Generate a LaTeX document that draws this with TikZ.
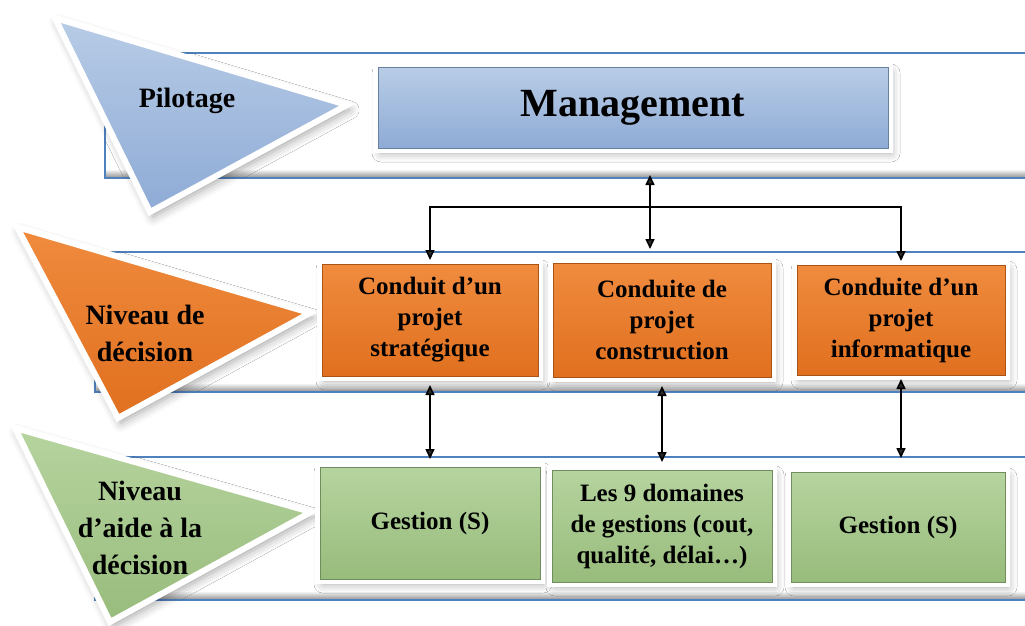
\documentclass[tikz,border=0pt]{standalone}
\usepackage{fontspec}
\setmainfont{Liberation Serif}
\usetikzlibrary{arrows.meta,shadows,shadows.blur,calc}

\definecolor{bandline}{HTML}{4F81BD}
\definecolor{blueTop}{HTML}{B8CCE6}
\definecolor{blueBot}{HTML}{8EABD6}
\definecolor{orangeTop}{HTML}{F08B3E}
\definecolor{orangeBot}{HTML}{E0701F}
\definecolor{greenTop}{HTML}{B6D49F}
\definecolor{greenBot}{HTML}{98BC7C}

\tikzset{
  softshadow/.style={blur shadow={shadow xshift=3pt, shadow yshift=-5pt,
      shadow blur radius=9pt, shadow opacity=35}},
  levelbox/.style={rectangle, align=center, inner sep=2pt, outer sep=4pt,
    font=\fontsize{25}{31}\selectfont\bfseries,
    softshadow,
    preaction={draw=white, line width=10pt},
    line width=1pt},
  bluebox/.style={levelbox, top color=blueTop, bottom color=blueBot, draw=blueBot!75!black},
  orangebox/.style={levelbox, top color=orangeTop, bottom color=orangeBot, draw=orangeBot!75!black},
  greenbox/.style={levelbox, top color=greenTop, bottom color=greenBot, draw=greenBot!75!black},
  pointer/.style={draw=white, line width=6pt, line join=miter, softshadow},
  tritext/.style={align=center, font=\fontsize{28}{37}\selectfont\bfseries},
  link/.style={line width=1.6pt, {Triangle[length=10pt,width=9pt]}-{Triangle[length=10pt,width=9pt]}},
}

\newcommand{\levelband}[4]{%
  % white band with blue outline and a grey fade along its lower edge
  \fill[white] (#1,#2) rectangle (#3,#4);
  \shade[top color=white, bottom color=black!45] (#1,{#4-9}) rectangle (#3,#4);
  \draw[bandline, line width=1.2pt] (#3,#2) -- (#1,#2) -- (#1,#4) -- (#3,#4);
}

\begin{document}
\begin{tikzpicture}[x=1pt, y=-1pt]
\useasboundingbox (0,0) rectangle (1025,626);

% level bands
\levelband{105}{53}{1040}{178}
\levelband{95}{252}{1040}{392}
\levelband{95}{457}{1040}{600}

% level pointers
\shade[pointer, top color=blueTop, bottom color=blueBot]
  (55,18) -- (347,105) -- (150,212) -- cycle;
\shade[pointer, top color=orangeTop, bottom color=orangeBot]
  (17,227) -- (310,313) -- (118,418) -- cycle;
\shade[pointer, top color=greenTop, bottom color=greenBot]
  (15,428) -- (311,512) -- (110,622) -- cycle;

\node[tritext] (pil) at (187,101) {Pilotage};
\node[tritext] (dec) at (145,333) {Niveau de\\décision};
\node[tritext] (aide) at (140,528) {Niveau\\d’aide à la\\décision};

% boxes
\node[bluebox, minimum width=510pt, minimum height=80pt,
      font=\fontsize{40}{48}\selectfont\bfseries] (mgmt) at (633,108) {Management};

\node[orangebox, minimum width=216pt, minimum height=112pt] (o1) at (430,320)
  {Conduit d’un\\projet\\stratégique};
\node[orangebox, minimum width=218pt, minimum height=114pt] (o2) at (662,320)
  {Conduite de\\projet\\construction};
\node[orangebox, minimum width=208pt, minimum height=110pt] (o3) at (901,320)
  {Conduite d’un\\projet\\informatique};

\node[greenbox, minimum width=220pt, minimum height=112pt] (g1) at (430,523)
  {Gestion (S)};
\node[greenbox, minimum width=220pt, minimum height=112pt] (g2) at (662,526)
  {Les 9 domaines\\de gestions (cout,\\qualité, délai…)};
\node[greenbox, minimum width=214pt, minimum height=110pt] (g3) at (898,527)
  {Gestion (S)};

% connectors
\coordinate (mtop) at (650,175);
\coordinate (mbot) at (650,249);
\draw[link] (mtop) -- (mbot);
\draw[link] (o1.north) |- (650,207) -| (o3.north);
\draw[link, shorten <=5pt, shorten >=4pt] (o1.south) -- (g1.north);
\draw[link, shorten <=5pt, shorten >=4pt] (o2.south) -- (g2.north);
\draw[link, shorten >=10pt] (o3.south) -- (o3.south |- g3.north);
\end{tikzpicture}
\end{document}
